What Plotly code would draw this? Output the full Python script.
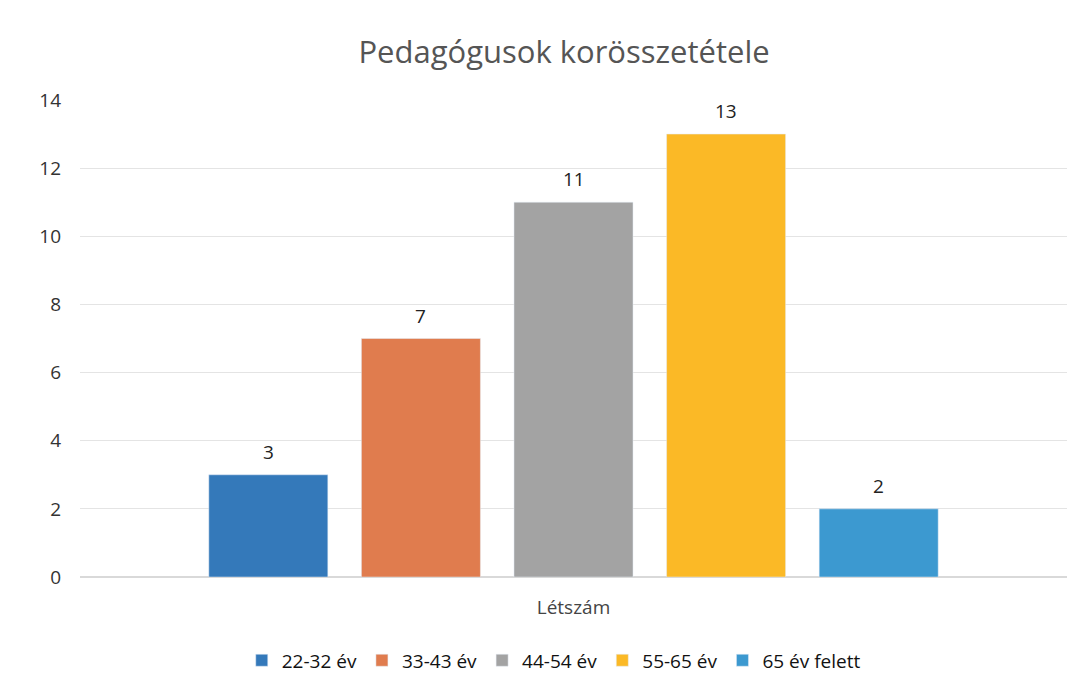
import plotly.graph_objects as go

categories = ["Létszám"]
series_names = ["22-32 év", "33-43 év", "44-54 év", "55-65 év", "65 év felett"]
series_values = [3, 7, 11, 13, 2]
colors = ["#3479BA", "#E07C4E", "#A3A3A3", "#FBB926", "#3C99D0"]
y_ticks = [0, 2, 4, 6, 8, 10, 12, 14]

bargap = 0.227
n = len(series_names)
slot = (1 - bargap) / n

fig = go.Figure()
for i, (name, val, col) in enumerate(zip(series_names, series_values, colors)):
    fig.add_trace(go.Bar(
        x=categories, y=[val], name=name, marker_color=col,
    ))
    fig.add_annotation(
        x=(i - (n - 1) / 2) * slot, y=val, xref="x", yref="y",
        text=str(val), showarrow=False, yanchor="middle", yshift=23,
        font=dict(size=19, color="#222222"),
    )

fig.update_layout(
    width=1086, height=695,
    paper_bgcolor="white", plot_bgcolor="white",
    font=dict(family="Open Sans, Liberation Sans, sans-serif", color="#333333"),
    title=dict(text="Pedagógusok korösszetétele", x=0.512, xanchor="center",
               y=0.937, yanchor="middle",
               font=dict(size=31, color="#555555")),
    margin=dict(l=72, r=27, t=92, b=126),
    barmode="group", bargap=bargap, bargroupgap=0.22,
    yaxis=dict(range=[0, 14], tickvals=y_ticks, showgrid=True,
               gridcolor="#E4E4E4", zeroline=True, zerolinecolor="#D9D9D9",
               tickfont=dict(size=19, color="#333333"), ticks="",
               ticklabelstandoff=18),
    xaxis=dict(showline=False, tickfont=dict(size=19, color="#444444"),
               ticklabelstandoff=17),
    legend=dict(orientation="h", x=0.48, xanchor="center", y=-0.135,
                yanchor="top", font=dict(size=19, color="#111111"),
                itemwidth=30, tracegroupgap=0),
)
fig.write_html("out.html")
